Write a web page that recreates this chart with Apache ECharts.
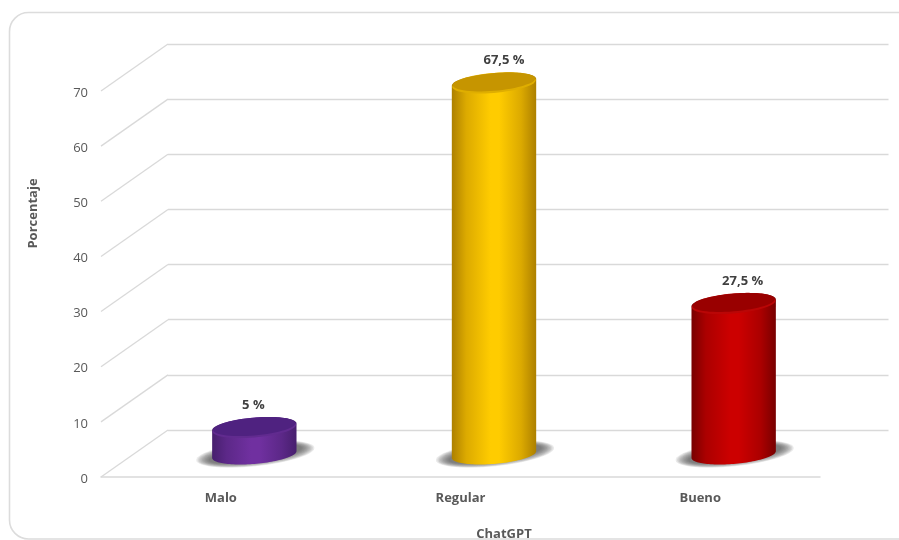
<!DOCTYPE html>
<html>
<head>
<meta charset="utf-8">
<style>html,body{margin:0;padding:0;background:#fff}#chart{width:899px;height:540px}</style>
<script src="https://cdn.jsdelivr.net/npm/echarts@6/dist/echarts.min.js"></script>
</head>
<body>
<div id="chart"></div>
<script>
// Survey results for ChatGPT, in percent
const categories = ['Malo', 'Regular', 'Bueno'];
const percentages = [5, 67.5, 27.5];
const yTicks = [0, 10, 20, 30, 40, 50, 60, 70];

// Cylinder tones per category: side edge, side shoulder, side centre, cap, cap rim
const tones = [
  { edge: '#471f6e', shoulder: '#5c2888', mid: '#7030a0', cap: '#4f2280', rim: '#612b8f' },
  { edge: '#ad8000', shoulder: '#dcaa00', mid: '#ffcc00', cap: '#c69500', rim: '#dfae00' },
  { edge: '#780000', shoulder: '#ab0000', mid: '#cc0000', cap: '#990000', rim: '#ba0606' }
];

// Sideways nudge of each value label from its cylinder's axis
const labelShift = [-1, 10, 9];

const FONT = '"Open Sans", "Noto Sans", sans-serif';
const GRID_LINE = '#d9d9d9';
const DEPTH = { x: 67, y: -47 };   // front edge of the floor to the back wall
const FLOOR_MID = { x: 33.5, y: -23 };
const SHADOW_LAYERS = 10;

// Points of a sheared ellipse: the sides stay vertical, the right end sits higher
function ellipse(cx, cy, rx, ry, tilt, from, to) {
  const pts = [];
  const n = 60;
  for (let i = 0; i <= n; i++) {
    const t = from + (to - from) * i / n;
    pts.push([cx + rx * Math.cos(t), cy + ry * Math.sin(t) - tilt * Math.cos(t)]);
  }
  return pts;
}

// Soft floor shadow: stacked translucent ellipses that tighten toward the cylinder
function floorShadow(cx, cy, rx, ry) {
  const layers = [];
  for (let k = 0; k < SHADOW_LAYERS; k++) {
    const f = k / (SHADOW_LAYERS - 1);
    layers.push({
      type: 'polygon', silent: true,
      shape: { points: ellipse(cx + 1, cy - 0.5, rx * (1.4 - 0.3 * f), ry * (1.3 - 0.5 * f), 6, 0, 2 * Math.PI) },
      style: { fill: 'rgba(80,80,80,0.12)' }
    });
  }
  return layers;
}

function renderCylinder(params, api) {
  const i = api.value(0);
  const base = api.coord([i, 0]);
  const top = api.coord([i, api.value(1)]);
  const rx = api.size([1, 0])[0] * 0.176;
  const ry = 9.4, tilt = 3.4;
  const tone = tones[i];
  const sideFill = {
    type: 'linear', x: 0, y: 0, x2: 1, y2: 0,
    colorStops: [
      { offset: 0, color: tone.edge },
      { offset: 0.17, color: tone.shoulder },
      { offset: 0.46, color: tone.mid },
      { offset: 0.56, color: tone.mid },
      { offset: 0.82, color: tone.shoulder },
      { offset: 1, color: tone.edge }
    ]
  };
  const side = ellipse(base[0], base[1], rx, ry, tilt, 0, Math.PI)
    .concat(ellipse(top[0], top[1], rx, ry, tilt, Math.PI, 2 * Math.PI));
  const text = String(api.value(1)).replace('.', ',') + ' %';
  return {
    type: 'group',
    children: floorShadow(base[0], base[1], rx, ry).concat([
      { type: 'polygon', shape: { points: side }, style: { fill: sideFill } },
      {
        type: 'polygon', silent: true,
        shape: { points: ellipse(top[0], top[1] + 1.2, rx - 0.4, ry, tilt, 0, 2 * Math.PI) },
        style: { fill: tone.rim }
      },
      {
        type: 'polygon',
        shape: { points: ellipse(top[0], top[1] - 0.4, rx - 1, ry - 0.5, tilt, 0, 2 * Math.PI) },
        style: { fill: tone.cap }
      },
      {
        type: 'text', silent: true,
        style: {
          x: top[0] + labelShift[i], y: top[1] - 22, text: text,
          fill: '#404040', font: 'bold 13px ' + FONT, align: 'center', verticalAlign: 'middle'
        }
      }
    ])
  };
}

// Floor edges that join each tick on the front axis to the same tick on the back wall
function renderDepthLine(params, api) {
  const p = api.coord([0, api.value(0)]);
  const x0 = params.coordSys.x;
  return {
    type: 'line', silent: true,
    shape: { x1: x0, y1: p[1], x2: x0 + DEPTH.x, y2: p[1] + DEPTH.y },
    style: { stroke: GRID_LINE, lineWidth: 1.3 }
  };
}

const FRONT = { left: 101, width: 719, top: 91, height: 386, outerBoundsMode: 'none' };
const grids = [
  FRONT,
  { left: FRONT.left + DEPTH.x, width: 720.5, top: FRONT.top + DEPTH.y, height: FRONT.height, outerBoundsMode: 'none' },
  { left: FRONT.left + FLOOR_MID.x, width: FRONT.width, top: FRONT.top + FLOOR_MID.y + 0.5, height: FRONT.height, outerBoundsMode: 'none' }
];

const yBase = { type: 'value', min: 0, max: 70, interval: 10 };
const hiddenX = { type: 'category', data: categories, show: false };

const option = {
  backgroundColor: '#fff',
  animation: false,
  graphic: [{
    type: 'rect', z: -1, silent: true,
    shape: { x: 9.5, y: 12.5, width: 1000, height: 526.5, r: 19 },
    style: { fill: '#fff', stroke: '#dcdcdc', lineWidth: 1.6 }
  }],
  grid: grids,
  xAxis: [
    {
      type: 'category', data: categories, gridIndex: 0,
      axisLine: { lineStyle: { color: GRID_LINE, width: 1.5 } },
      axisTick: { show: false },
      axisLabel: { color: '#595959', fontFamily: FONT, fontWeight: 'bold', fontSize: 13, margin: 15 },
      name: 'ChatGPT', nameLocation: 'middle', nameGap: 51,
      nameTextStyle: { color: '#595959', fontFamily: FONT, fontWeight: 'bold', fontSize: 13, padding: [0, 0, 0, 87] }
    },
    Object.assign({ gridIndex: 1 }, hiddenX),
    Object.assign({ gridIndex: 2 }, hiddenX)
  ],
  yAxis: [
    Object.assign({}, yBase, {
      gridIndex: 0,
      axisLine: { show: false }, axisTick: { show: false }, splitLine: { show: false },
      axisLabel: {
        margin: 13,
        formatter: '{tick|{value}}',
        rich: { tick: { color: '#595959', fontFamily: FONT, fontSize: 13, padding: [4, 0, 0, 0] } }
      },
      name: 'Porcentaje', nameLocation: 'middle', nameGap: 61,
      nameTextStyle: { color: '#595959', fontFamily: FONT, fontWeight: 'bold', fontSize: 13, padding: [0, 0, 0, 141] }
    }),
    Object.assign({}, yBase, {
      gridIndex: 1,
      axisLine: { show: false }, axisTick: { show: false }, axisLabel: { show: false },
      splitLine: { lineStyle: { color: GRID_LINE, width: 1.3 } }
    }),
    Object.assign({}, yBase, { gridIndex: 2, show: false })
  ],
  series: [
    {
      type: 'custom', name: 'Profundidad', xAxisIndex: 0, yAxisIndex: 0, clip: false, z: 1,
      renderItem: renderDepthLine, data: yTicks.map(v => [v]), encode: { y: 0 }, silent: true
    },
    {
      type: 'custom', name: 'Porcentaje', xAxisIndex: 2, yAxisIndex: 2, clip: false, z: 3,
      renderItem: renderCylinder,
      data: percentages.map((v, i) => [i, v]), encode: { x: 0, y: 1 }
    }
  ]
};

const chart = echarts.init(document.getElementById('chart'), null, { renderer: 'canvas' });
chart.setOption(option);
</script>
</body>
</html>
